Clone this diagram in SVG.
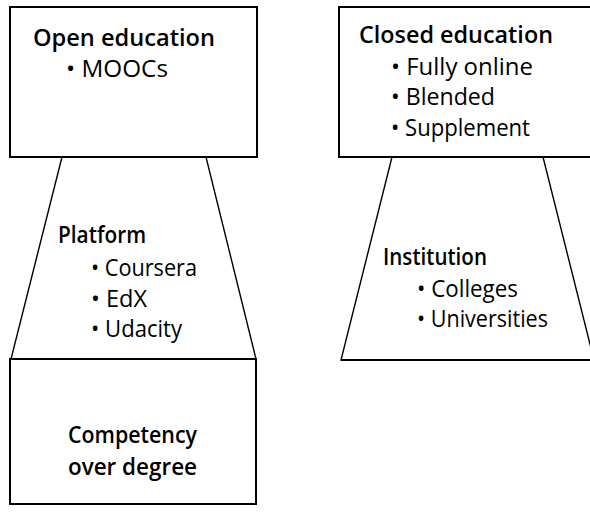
<svg xmlns="http://www.w3.org/2000/svg" width="590" height="514" viewBox="0 0 590 514">
<style>
.box{fill:#fff;stroke:#000;stroke-width:2}
.trap{fill:#fff;stroke:#000;stroke-width:1.4}
.base{stroke:#000;stroke-width:2;fill:none}
text{font-family:"Open Sans","Noto Sans","DejaVu Sans",sans-serif;font-size:23px;fill:#000}
.h{font-weight:600}
</style>
<rect width="590" height="514" fill="#fff"/>
<g id="connectors"/>
<g id="platform">
<path class="trap" d="M62,157 L206,157 L256,359 L11,359 Z"/>
<text class="h" x="58" y="243" textLength="88" lengthAdjust="spacingAndGlyphs">Platform</text>
<text x="91" y="276" textLength="106" lengthAdjust="spacingAndGlyphs">• Coursera</text>
<text x="91" y="307" textLength="56" lengthAdjust="spacingAndGlyphs">• EdX</text>
<text x="91" y="337" textLength="91" lengthAdjust="spacingAndGlyphs">• Udacity</text>
</g>
<g id="open-education">
<rect class="box" x="10" y="7" width="247" height="150"/>
<text class="h" x="33" y="46" textLength="182" lengthAdjust="spacingAndGlyphs">Open  education</text>
<text x="66" y="77" textLength="102" lengthAdjust="spacingAndGlyphs">• MOOCs</text>
</g>
<g id="competency">
<rect class="box" x="10" y="359" width="246" height="145"/>
<text class="h" x="68" y="443" textLength="129" lengthAdjust="spacingAndGlyphs">Competency</text>
<text class="h" x="68" y="475" textLength="129" lengthAdjust="spacingAndGlyphs">over  degree</text>
</g>
<g id="institution">
<path class="trap" d="M392,157 L543,157 L594,360 L341,360 Z"/>
<path class="base" d="M341,360 L594,360"/>
<text class="h" x="383" y="265" textLength="104" lengthAdjust="spacingAndGlyphs">Institution</text>
<text x="417" y="297" textLength="101" lengthAdjust="spacingAndGlyphs">• Colleges</text>
<text x="417" y="327" textLength="131" lengthAdjust="spacingAndGlyphs">• Universities</text>
</g>
<g id="closed-education">
<rect class="box" x="339" y="7" width="260" height="150"/>
<text class="h" x="359" y="43" textLength="194" lengthAdjust="spacingAndGlyphs">Closed  education</text>
<text x="391" y="75" textLength="142" lengthAdjust="spacingAndGlyphs">• Fully  online</text>
<text x="391" y="105" textLength="104" lengthAdjust="spacingAndGlyphs">• Blended</text>
<text x="391" y="136" textLength="139" lengthAdjust="spacingAndGlyphs">• Supplement</text>
</g>
</svg>
